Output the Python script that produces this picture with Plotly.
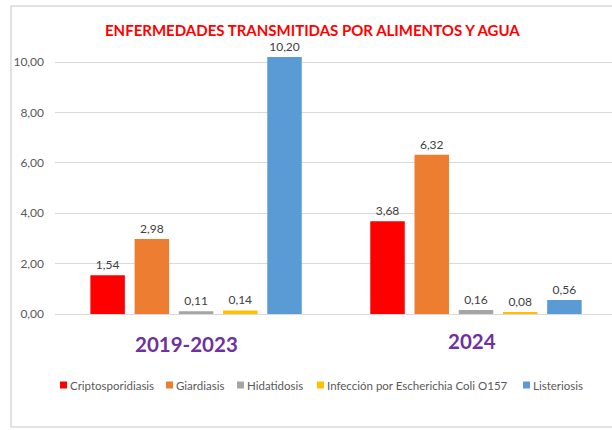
import plotly.graph_objects as go

categories = ["2019-2023", "2024"]
series_names = ["Criptosporidiasis", "Giardiasis", "Hidatidosis",
                "Infección por Escherichia Coli O157", "Listeriosis"]
criptosporidiasis = [1.54, 3.68]
giardiasis = [2.98, 6.32]
hidatidosis = [0.11, 0.16]
ecoli = [0.14, 0.08]
listeriosis = [10.20, 0.56]
series_values = [criptosporidiasis, giardiasis, hidatidosis, ecoli, listeriosis]
colors = ["#FF0000", "#ED7D31", "#A5A5A5", "#FFC000", "#5B9BD5"]
y_ticks = [0, 2, 4, 6, 8, 10]

W, H = 612, 430
L, R, T, B = 55, 0, 50, 116
pw, ph = W - L - R, H - T - B

def px(x):
    return (x - L) / pw

def py(y):
    return (H - B - y) / ph

FONT = "Lato, Liberation Sans, sans-serif"

fig = go.Figure()
for name, vals, col in zip(series_names, series_values, colors):
    fig.add_trace(go.Bar(
        x=categories, y=vals, name=name, marker_color=col,
        marker_line_width=0, showlegend=False,
        texttemplate="%{y:.2f}", textposition="outside",
        textfont=dict(family=FONT, size=12, color="#404040"),
        cliponaxis=False,
    ))

# manual single-row legend like the original
legend_square_x = [60, 166, 237, 317, 523]
legend_y = 385
shapes = [dict(type="rect", xref="paper", yref="paper",
               x0=px(11), x1=px(W + 5), y0=py(427), y1=py(6),
               line=dict(color="#D9D9D9", width=1.5), fillcolor="rgba(0,0,0,0)", layer="below")]
annotations = [
    dict(text="<b>ENFERMEDADES TRANSMITIDAS POR ALIMENTOS Y AGUA</b>",
         xref="paper", yref="paper", x=px(312), y=py(30), showarrow=False,
         xanchor="center", yanchor="middle",
         font=dict(family=FONT, size=15, color="#FF0000")),
    dict(text="<b>2019-2023</b>", xref="x", yref="paper", x=0, xshift=-10,
         y=py(344), showarrow=False, xanchor="center", yanchor="middle",
         font=dict(family=FONT, size=20.5, color="#7030A0")),
    dict(text="<b>2024</b>", xref="x", yref="paper", x=1, xshift=-4,
         y=py(341), showarrow=False, xanchor="center", yanchor="middle",
         font=dict(family=FONT, size=20.5, color="#7030A0")),
]
for name, col, sx in zip(series_names, colors, legend_square_x):
    shapes.append(dict(type="rect", xref="paper", yref="paper",
                       x0=px(sx), x1=px(sx + 7), y0=py(legend_y + 3.5), y1=py(legend_y - 3.5),
                       line=dict(width=0), fillcolor=col))
    annotations.append(dict(text=name, xref="paper", yref="paper", x=px(sx + 8),
                            y=py(legend_y), showarrow=False, xanchor="left", yanchor="middle",
                            font=dict(family=FONT, size=11.5, color="#595959")))

fig.update_layout(
    width=W, height=H,
    margin=dict(l=L, r=R, t=T, b=B, autoexpand=False),
    paper_bgcolor="white", plot_bgcolor="white",
    separators=",.",
    barmode="group", bargap=0.21, bargroupgap=0.22,
    font=dict(family=FONT, color="#595959"),
    showlegend=False,
    xaxis=dict(type="category", range=[-0.504, 1.486], showticklabels=False, showgrid=False,
               zeroline=False, showline=False, ticks=""),
    yaxis=dict(range=[0, (H - B - T) / 25.2], tickvals=y_ticks, tickformat=".2f",
               showgrid=True, gridcolor="#D9D9D9", gridwidth=1,
               zeroline=True, zerolinecolor="#D9D9D9", zerolinewidth=1,
               showline=False, ticks="", ticklabelstandoff=10,
               tickfont=dict(size=12, color="#595959")),
    shapes=shapes,
    annotations=annotations,
)

fig.write_html("out.html", config={"displayModeBar": False},
               post_script="document.body.style.margin='0';")
